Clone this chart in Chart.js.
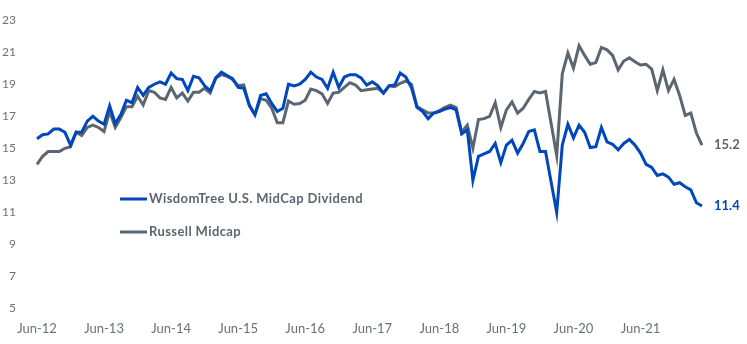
<!DOCTYPE html>
<html>
<head>
<meta charset="utf-8">
<script src="https://cdn.jsdelivr.net/npm/chart.js@4"></script>
<style>
  html, body { margin: 0; padding: 0; background: #fff; }
  #wrap { width: 747px; height: 344px; }
</style>
</head>
<body>
<div id="wrap"><canvas id="chart"></canvas></div>
<script>
// monthly, Jun-12 .. May-22
const startYear = 2012;
const startMonth = 5; // June (0-based)
const monthNames = ["Jan", "Feb", "Mar", "Apr", "May", "Jun", "Jul", "Aug", "Sep", "Oct", "Nov", "Dec"];

const wisdomTree = [
  15.6, 15.85, 15.9, 16.2, 16.2, 16.0, 15.2, 16.0, 16.0, 16.7,
  17.0, 16.7, 16.5, 17.65, 16.55, 17.1, 18.0, 17.85, 18.8, 18.3,
  18.8, 19.0, 19.15, 19.0, 19.7, 19.35, 19.3, 18.6, 19.5, 19.4,
  18.9, 18.6, 19.4, 19.75, 19.55, 19.35, 18.8, 18.75, 17.7, 17.1,
  18.3, 18.4, 17.8, 17.3, 17.5, 19.0, 18.9, 19.0, 19.3, 19.75,
  19.45, 19.3, 18.75, 19.75, 18.8, 19.45, 19.6, 19.6, 19.4, 18.95,
  19.15, 18.9, 18.45, 18.9, 18.95, 19.7, 19.45, 18.8, 17.55, 17.3,
  16.85, 17.2, 17.3, 17.45, 17.55, 17.4, 15.9, 16.15, 13.0, 14.5,
  14.65, 14.8, 15.3, 14.1, 15.2, 15.5, 14.7, 15.3, 16.05, 16.15,
  14.8, 14.8, 12.9, 11.0, 15.2, 16.5, 15.65, 16.45, 16.0, 15.05,
  15.1, 16.3, 15.4, 15.25, 14.9, 15.3, 15.55, 15.2, 14.7, 14.0,
  13.8, 13.3, 13.4, 13.2, 12.75, 12.85, 12.6, 12.4, 11.6, 11.4
];

const russellMidcap = [
  14.0, 14.5, 14.8, 14.8, 14.8, 15.0, 15.1, 16.0, 15.8, 16.3,
  16.45, 16.3, 16.05, 17.3, 16.3, 16.9, 17.6, 17.6, 18.25, 17.7,
  18.6, 18.5, 18.15, 18.05, 18.8, 18.15, 18.45, 17.95, 18.5, 18.5,
  18.75, 18.45, 19.4, 19.6, 19.5, 19.3, 18.9, 18.95, 17.65, 17.1,
  18.1, 18.0, 17.5, 16.6, 16.6, 17.95, 17.75, 17.8, 18.0, 18.7,
  18.6, 18.4, 17.8, 18.45, 18.5, 18.8, 19.1, 18.95, 18.6, 18.65,
  18.7, 18.75, 18.45, 18.9, 18.85, 19.05, 19.2, 19.0, 17.6, 17.4,
  17.2, 17.2, 17.35, 17.55, 17.7, 17.55, 16.0, 16.45, 15.0, 16.8,
  16.85, 17.0, 17.85, 16.3, 17.4, 17.9, 17.2, 17.5, 18.05, 18.55,
  18.45, 18.55, 16.55, 14.55, 19.65, 20.95, 20.0, 21.4, 20.8, 20.25,
  20.35, 21.3, 21.15, 20.8, 19.9, 20.45, 20.65, 20.4, 20.2, 20.25,
  19.95, 18.6, 19.9, 18.6, 19.3, 18.3, 17.05, 17.2, 15.95, 15.2
];

const seriesNames = ["WisdomTree U.S. MidCap Dividend", "Russell Midcap"];
const seriesColors = ["#0047BB", "#5B6670"];
const yTicks = [5, 7, 9, 11, 13, 15, 17, 19, 21, 23];

const labels = [];
for (let i = 0; i < wisdomTree.length; i++) {
  const m = (startMonth + i) % 12;
  const y = startYear + Math.floor((startMonth + i) / 12);
  labels.push(monthNames[m] + "-" + String(y % 100).padStart(2, "0"));
}

// legend inside the plot + value labels at the end of each line
const annotations = {
  id: "annotations",
  afterDatasetsDraw(chart) {
    const ctx = chart.ctx;
    ctx.save();
    ctx.font = "bold 13px Lato";
    ctx.textBaseline = "middle";
    const legendY = [199, 232];
    seriesNames.forEach((name, i) => {
      ctx.strokeStyle = seriesColors[i];
      ctx.lineWidth = 3;
      ctx.beginPath();
      ctx.moveTo(120, legendY[i]);
      ctx.lineTo(147, legendY[i]);
      ctx.stroke();
      ctx.fillStyle = "#5B6670";
      ctx.letterSpacing = "0.4px";
      ctx.fillText(name, 149, legendY[i]);
    });
    ctx.letterSpacing = "0px";
    chart.data.datasets.forEach((ds, i) => {
      const pts = chart.getDatasetMeta(i).data;
      const last = pts[pts.length - 1];
      ctx.fillStyle = seriesColors[i];
      ctx.fillText(ds.data[ds.data.length - 1].toFixed(1), last.x + 12, last.y);
    });
    ctx.restore();
  },
};

new Chart(document.getElementById("chart"), {
  type: "line",
  data: {
    labels: labels,
    datasets: [
      {
        label: seriesNames[0],
        data: wisdomTree,
        borderColor: seriesColors[0],
        borderWidth: 3,
        pointRadius: 0,
        tension: 0,
      },
      {
        label: seriesNames[1],
        data: russellMidcap,
        borderColor: seriesColors[1],
        borderWidth: 3,
        pointRadius: 0,
        tension: 0,
      },
    ],
  },
  options: {
    responsive: true,
    maintainAspectRatio: false,
    animation: false,
    layout: { padding: { top: 9, right: 45, bottom: 2, left: 0 } },
    plugins: {
      legend: { display: false },
      tooltip: { enabled: false },
    },
    scales: {
      x: {
        offset: false,
        grid: { display: false },
        border: { display: false },
        ticks: {
          autoSkip: false,
          maxRotation: 0,
          padding: 5,
          color: "#6B7179",
          font: { family: "Lato", size: 13 },
          callback(value, index) {
            return index % 12 === 0 ? labels[index] : null;
          },
        },
      },
      y: {
        min: 5,
        max: 23,
        grid: { display: false },
        border: { display: false },
        afterBuildTicks(scale) {
          scale.ticks = yTicks.map((v) => ({ value: v }));
        },
        afterFit(scale) {
          scale.width = 37;
        },
        ticks: {
          padding: 13,
          color: "#6B7179",
          font: { family: "Lato", size: 12 },
        },
      },
    },
  },
  plugins: [annotations],
});
</script>
</body>
</html>
